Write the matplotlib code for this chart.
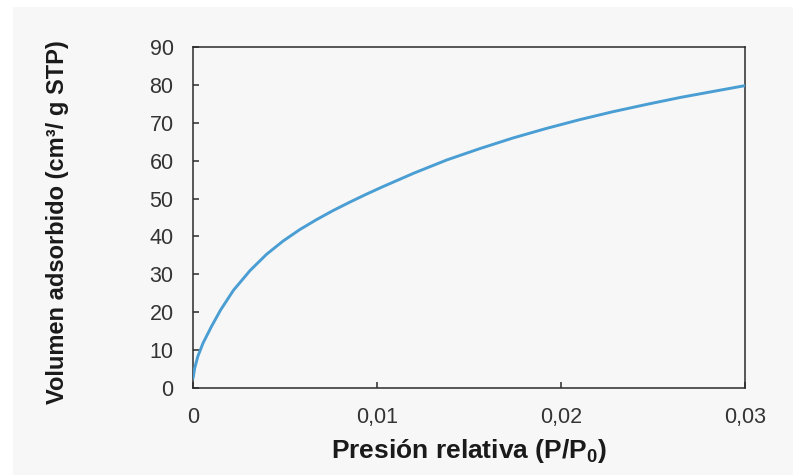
import matplotlib
matplotlib.use("Agg")
import matplotlib.pyplot as plt
from matplotlib.patches import Rectangle

# Isoterma de adsorción a baja presión relativa
presion_rel = [0.0, 0.00009, 0.00026, 0.00054, 0.0010, 0.0015, 0.0022,
               0.0031, 0.0040, 0.0049, 0.0058, 0.0067, 0.0076, 0.0085,
               0.0094, 0.0103, 0.0120, 0.0138, 0.0156, 0.0174, 0.0192,
               0.0210, 0.0228, 0.0247, 0.0265, 0.0283, 0.0300]
volumen_ads = [2.5, 5.2, 8.3, 11.8, 16.2, 20.6, 25.8,
               31.0, 35.3, 38.8, 41.8, 44.4, 46.8, 49.0,
               51.1, 53.1, 56.7, 60.2, 63.2, 66.0, 68.5,
               70.8, 72.9, 74.9, 76.7, 78.3, 79.8]

x_ticks = [0, 0.01, 0.02, 0.03]
x_tick_labels = ["0", "0,01", "0,02", "0,03"]
y_ticks = list(range(0, 91, 10))

BG = "#f7f7f7"
LINE_COLOR = "#4a9ed3"
FRAME_COLOR = "#2b2b2b"
TICK_TEXT = "#333333"
LABEL_TEXT = "#1a1a1a"

plt.rcParams["font.family"] = ["Liberation Sans", "DejaVu Sans"]
plt.rcParams["mathtext.fontset"] = "custom"
plt.rcParams["mathtext.rm"] = "Liberation Sans"
plt.rcParams["mathtext.bf"] = "Liberation Sans:bold"

W, H = 793, 475
fig = plt.figure(figsize=(W / 100, H / 100), dpi=100, facecolor="white")

# fondo gris claro del panel
fig.add_artist(Rectangle((13 / W, 0), 1 - 13 / W, 1 - 7 / H,
                         transform=fig.transFigure, facecolor=BG,
                         edgecolor="none", zorder=-10))

ax = fig.add_axes([193 / W, 1 - 388 / H, (745 - 193) / W, (388 - 47) / H])
ax.set_facecolor(BG)

ax.plot(presion_rel, volumen_ads, color=LINE_COLOR, linewidth=2.1,
        solid_capstyle="round", solid_joinstyle="round", zorder=3)

ax.set_xlim(0, 0.03)
ax.set_ylim(0, 90)
ax.set_xticks(x_ticks)
ax.set_xticklabels(x_tick_labels)
ax.set_yticks(y_ticks)

for spine in ax.spines.values():
    spine.set_color(FRAME_COLOR)
    spine.set_linewidth(1.1)

ax.tick_params(direction="in", length=4.5, width=1.1, color=FRAME_COLOR,
               labelsize=15.5, labelcolor=TICK_TEXT, pad=14)

# títulos de los ejes
fig.text(469 / W, 1 - 458 / H, r"Presión relativa (P/P$_\mathbf{0}$)",
         fontsize=19, fontweight="bold", color=LABEL_TEXT,
         ha="center", va="baseline")
fig.text(58 / W, 1 - 222 / H, "Volumen adsorbido (cm³/ g STP)",
         fontsize=17, fontweight="bold", color=LABEL_TEXT,
         rotation=90, ha="center", va="center")

fig.savefig("out.png", dpi=100, facecolor="white")
